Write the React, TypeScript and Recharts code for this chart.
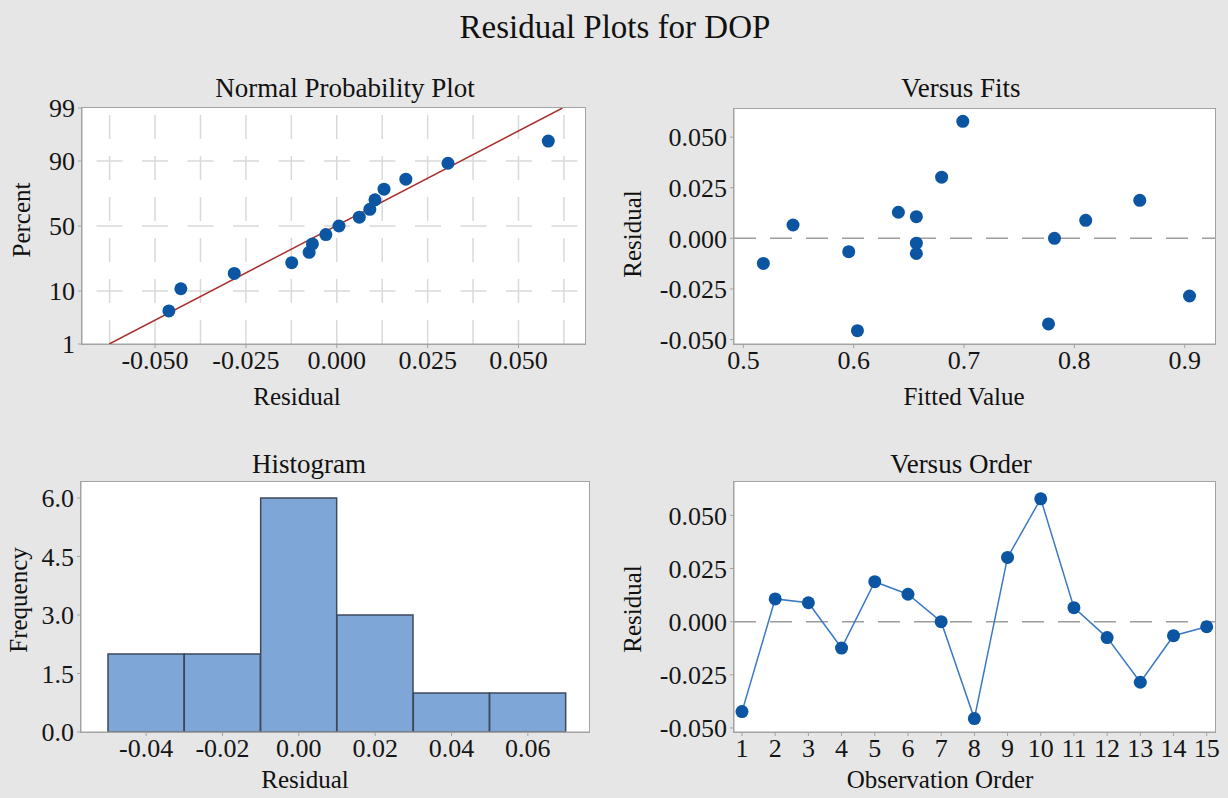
import React from "react";
import {
  ScatterChart,
  Scatter,
  BarChart,
  Bar,
  LineChart,
  Line,
  XAxis,
  YAxis,
  ReferenceLine,
} from "recharts";

const SERIF = '"Liberation Serif", "Times New Roman", serif';
const BG = "#e6e6e6";
const FRAME = "#a3a3a3";
const GRID = "#d9d9d9";
const DOT = "#0b55a3";
const LINE_BLUE = "#3b79c3";
const FIT_RED = "#a8312f";
const BAR_FILL = "#7ea7d8";
const BAR_EDGE = "#3e4a5a";
const ZERO = "#9c9c9c";

// normal probability plot: sorted residuals and their plotted percent
const normResid = [
  -0.0462, -0.0429, -0.0282, -0.0124, -0.0076, -0.0067, -0.003, 0.0006,
  0.0062, 0.0091, 0.0105, 0.013, 0.019, 0.0306, 0.0582,
];
const normPct = [4.7, 10.8, 17.5, 23.5, 30.2, 36.2, 43.3, 50, 56.9, 62.9, 69.7, 76.6, 82.2, 89.2, 95.3];
const fitLineResid = [-0.0626, 0.0621];
const fitLinePct = [1, 99];
const pctTicks = [1, 10, 50, 90, 99];
const pctGrid = [10, 50, 90];
const residTicks = [-0.05, -0.025, 0, 0.025, 0.05];
const residGrid = [-0.0625, -0.05, -0.0375, -0.025, -0.0125, 0, 0.0125, 0.025, 0.0375, 0.05, 0.0625];

// observations in run order
const order = [1, 2, 3, 4, 5, 6, 7, 8, 9, 10, 11, 12, 13, 14, 15];
const residuals = [
  -0.0423, 0.0107, 0.0089, -0.0124, 0.0188, 0.0129, 0.0, -0.0456, 0.0302,
  0.0578, 0.0066, -0.0075, -0.0285, -0.0066, -0.0024,
];
const fitted = [
  0.7766, 0.6568, 0.8103, 0.5181, 0.8593, 0.6405, 0.782, 0.6034, 0.6797,
  0.6989, 0.545, 0.6568, 0.9044, 0.5955, 0.6568,
];
const fitTicks = [0.5, 0.6, 0.7, 0.8, 0.9];

// histogram of residuals
const binLabels = ["-0.04", "-0.02", "0.00", "0.02", "0.04", "0.06"];
const binCounts = [2, 2, 6, 3, 1, 1];
const freqTicks = [0, 1.5, 3, 4.5, 6];

// inverse normal cdf (Acklam) for the probability scale
function probit(p: number): number {
  const a = [-39.69683028665376, 220.9460984245205, -275.9285104469687, 138.357751867269, -30.66479806614716, 2.506628277459239];
  const b = [-54.47609879822406, 161.5858368580409, -155.6989798598866, 66.80131188771972, -13.28068155288572];
  const c = [-0.007784894002430293, -0.3223964580411365, -2.400758277161838, -2.549732539343734, 4.374664141464968, 2.938163982698783];
  const d = [0.007784695709041462, 0.3224671290700398, 2.445134137142996, 3.754408661907416];
  const lo = 0.02425;
  if (p < lo) {
    const q = Math.sqrt(-2 * Math.log(p));
    return (((((c[0] * q + c[1]) * q + c[2]) * q + c[3]) * q + c[4]) * q + c[5]) / ((((d[0] * q + d[1]) * q + d[2]) * q + d[3]) * q + 1);
  }
  if (p > 1 - lo) {
    const q = Math.sqrt(-2 * Math.log(1 - p));
    return -(((((c[0] * q + c[1]) * q + c[2]) * q + c[3]) * q + c[4]) * q + c[5]) / ((((d[0] * q + d[1]) * q + d[2]) * q + d[3]) * q + 1);
  }
  const q = p - 0.5;
  const r = q * q;
  return ((((((a[0] * r + a[1]) * r + a[2]) * r + a[3]) * r + a[4]) * r + a[5]) * q) / (((((b[0] * r + b[1]) * r + b[2]) * r + b[3]) * r + b[4]) * r + 1);
}

const zTicks = pctTicks.map((p) => probit(p / 100));
const normPoints = normResid.map((r, i) => ({ x: r, y: probit(normPct[i] / 100) }));
const fitPoints = fitLineResid.map((r, i) => ({ x: r, y: probit(fitLinePct[i] / 100) }));
const fitsPoints = fitted.map((f, i) => ({ x: f, y: residuals[i] }));
const orderPoints = order.map((o, i) => ({ obs: o, res: residuals[i] }));
const histData = binLabels.map((b, i) => ({ bin: b, count: binCounts[i] }));

const YW = 70;
const XH = 40;

type Frame = { left: number; top: number; width: number; height: number };
type Box = { x1: number; y1: number; x2: number; y2: number };

function marginFor(f: Frame, p: Box) {
  return {
    left: p.x1 - f.left - YW,
    top: p.y1 - f.top,
    right: f.left + f.width - p.x2,
    bottom: f.top + f.height - p.y2 - XH,
  };
}

const tickStyle = { fill: "#151515", fontSize: 26, fontFamily: SERIF };
const axisCommon = {
  tick: tickStyle,
  tickLine: { stroke: FRAME },
  axisLine: { stroke: FRAME },
  tickSize: 4,
  tickMargin: 3,
  interval: 0 as const,
};

const dotShape = (p: any) => <circle cx={p.cx} cy={p.cy} r={6.5} fill={DOT} />;

function PlotBg({ box }: { box: Box }) {
  return (
    <div
      style={{
        position: "absolute",
        left: box.x1 - 1,
        top: box.y1 - 1,
        width: box.x2 - box.x1,
        height: box.y2 - box.y1,
        background: "#fff",
        border: `1px solid ${FRAME}`,
      }}
    />
  );
}

const f1: Frame = { left: 0, top: 50, width: 614, height: 380 };
const b1: Box = { x1: 82, y1: 108, x2: 585, y2: 344 };
const f2: Frame = { left: 614, top: 50, width: 614, height: 380 };
const b2: Box = { x1: 734, y1: 109, x2: 1215, y2: 344 };
const f3: Frame = { left: 0, top: 430, width: 614, height: 368 };
const b3: Box = { x1: 81, y1: 482, x2: 589, y2: 732 };
const f4: Frame = { left: 614, top: 430, width: 614, height: 368 };
const b4: Box = { x1: 734, y1: 482, x2: 1215, y2: 732 };

const pos = (f: Frame): React.CSSProperties => ({ position: "absolute", left: f.left, top: f.top, fontFamily: SERIF });

function NormalPlot() {
  return (
    <div style={pos(f1)}>
      <ScatterChart width={f1.width} height={f1.height} margin={marginFor(f1, b1)}>
        <XAxis
          {...axisCommon}
          type="number"
          dataKey="x"
          height={XH}
          domain={[-0.0701, 0.0683]}
          allowDataOverflow
          ticks={residTicks}
          tickFormatter={(v: number) => v.toFixed(3)}
        />
        <YAxis
          {...axisCommon}
          type="number"
          dataKey="y"
          width={YW}
          domain={[zTicks[0], zTicks[zTicks.length - 1]]}
          allowDataOverflow
          ticks={zTicks}
          tickFormatter={(v: number) => {
            const i = zTicks.findIndex((z) => Math.abs(z - v) < 1e-9);
            return i >= 0 ? String(pctTicks[i]) : "";
          }}
        />
        {residGrid.map((g) => (
          <ReferenceLine key={`gx${g}`} x={g} stroke={GRID} strokeWidth={1.5} strokeDasharray="24 17" />
        ))}
        {pctGrid.map((p) => (
          <ReferenceLine key={`gy${p}`} y={probit(p / 100)} stroke={GRID} strokeWidth={1.5} strokeDasharray="26 19.5" strokeDashoffset={31} />
        ))}
        <Scatter
          data={fitPoints}
          line={{ stroke: FIT_RED, strokeWidth: 1.5 }}
          shape={() => <g />}
          isAnimationActive={false}
        />
        <Scatter data={normPoints} shape={dotShape} isAnimationActive={false} />
      </ScatterChart>
    </div>
  );
}

function FitsPlot() {
  return (
    <div style={pos(f2)}>
      <ScatterChart width={f2.width} height={f2.height} margin={marginFor(f2, b2)}>
        <XAxis
          {...axisCommon}
          type="number"
          dataKey="x"
          height={XH}
          domain={[0.4915, 0.9275]}
          allowDataOverflow
          ticks={fitTicks}
          tickFormatter={(v: number) => v.toFixed(1)}
        />
        <YAxis
          {...axisCommon}
          type="number"
          dataKey="y"
          width={YW}
          domain={[-0.0522, 0.0639]}
          allowDataOverflow
          ticks={residTicks}
          tickFormatter={(v: number) => v.toFixed(3)}
        />
        <ReferenceLine y={0} stroke={ZERO} strokeWidth={1.5} strokeDasharray="22 14" />
        <Scatter data={fitsPoints} shape={dotShape} isAnimationActive={false} />
      </ScatterChart>
    </div>
  );
}

function HistPlot() {
  return (
    <div style={pos(f3)}>
      <BarChart width={f3.width} height={f3.height} data={histData} margin={marginFor(f3, b3)} barCategoryGap={0}>
        <XAxis {...axisCommon} dataKey="bin" height={XH} padding={{ left: 27, right: 23 }} />
        <YAxis
          {...axisCommon}
          type="number"
          width={YW}
          domain={[0, 6.41]}
          allowDataOverflow
          ticks={freqTicks}
          tickFormatter={(v: number) => v.toFixed(1)}
        />
        <Bar dataKey="count" fill={BAR_FILL} stroke={BAR_EDGE} strokeWidth={1.5} isAnimationActive={false} />
      </BarChart>
    </div>
  );
}

function OrderPlot() {
  return (
    <div style={pos(f4)}>
      <LineChart width={f4.width} height={f4.height} data={orderPoints} margin={marginFor(f4, b4)}>
        <XAxis
          {...axisCommon}
          type="number"
          dataKey="obs"
          height={XH}
          domain={[0.759, 15.25]}
          allowDataOverflow
          ticks={order}
        />
        <YAxis
          {...axisCommon}
          type="number"
          width={YW}
          domain={[-0.0519, 0.0657]}
          allowDataOverflow
          ticks={residTicks}
          tickFormatter={(v: number) => v.toFixed(3)}
        />
        <ReferenceLine y={0} stroke={ZERO} strokeWidth={1.5} strokeDasharray="22 14" />
        <Line
          type="linear"
          dataKey="res"
          stroke={LINE_BLUE}
          strokeWidth={1.5}
          dot={{ r: 6.5, fill: DOT, stroke: DOT, strokeWidth: 0 }}
          activeDot={false}
          isAnimationActive={false}
        />
      </LineChart>
    </div>
  );
}

function Titles() {
  const t = { fontFamily: SERIF, fill: "#111" };
  return (
    <svg width={1228} height={798} style={{ position: "absolute", left: 0, top: 0, pointerEvents: "none" }}>
      <text x={615} y={38} fontSize={33} textAnchor="middle" {...t}>Residual Plots for DOP</text>
      <text x={345} y={97} fontSize={27} textAnchor="middle" {...t}>Normal Probability Plot</text>
      <text x={961} y={97} fontSize={27} textAnchor="middle" {...t}>Versus Fits</text>
      <text x={309} y={473} fontSize={27} textAnchor="middle" {...t}>Histogram</text>
      <text x={961} y={473} fontSize={27} textAnchor="middle" {...t}>Versus Order</text>
      <text x={297} y={405} fontSize={25} textAnchor="middle" {...t}>Residual</text>
      <text x={964} y={405} fontSize={25} textAnchor="middle" {...t}>Fitted Value</text>
      <text x={305} y={788} fontSize={25} textAnchor="middle" {...t}>Residual</text>
      <text x={940} y={788} fontSize={25} textAnchor="middle" {...t}>Observation Order</text>
      <text transform="translate(30,220) rotate(-90)" fontSize={25} textAnchor="middle" {...t}>Percent</text>
      <text transform="translate(641,234) rotate(-90)" fontSize={25} textAnchor="middle" {...t}>Residual</text>
      <text transform="translate(27,600) rotate(-90)" fontSize={25} textAnchor="middle" {...t}>Frequency</text>
      <text transform="translate(641,609) rotate(-90)" fontSize={25} textAnchor="middle" {...t}>Residual</text>
    </svg>
  );
}

export default function App() {
  return (
    <div style={{ position: "absolute", left: 0, top: 0, width: 1228, height: 798, background: BG, overflow: "hidden", fontFamily: SERIF }}>
      <PlotBg box={b1} />
      <PlotBg box={b2} />
      <PlotBg box={b3} />
      <PlotBg box={b4} />
      <NormalPlot />
      <FitsPlot />
      <HistPlot />
      <OrderPlot />
      <Titles />
    </div>
  );
}
